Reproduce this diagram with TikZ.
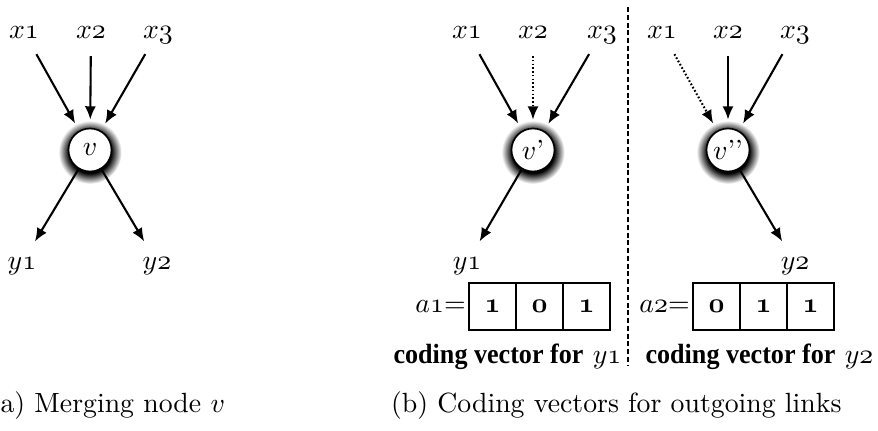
\documentclass[tikz,border=0pt]{standalone}
\usepackage{fontspec}
\newfontfamily\vecfont{Liberation Serif}[BoldFeatures={FakeStretch=0.94}]
\usetikzlibrary{arrows.meta}
\pgfdeclarelayer{background}
\pgfsetlayers{background,main}
% soft dark halo round a merging node
\pgfdeclareradialshading{halo}{\pgfpoint{0bp}{0bp}}{%
  color(0bp)=(black); color(16.5bp)=(black); color(19bp)=(black!72);
  color(25bp)=(white); color(50bp)=(white)}
% old-style digits taken from the math italic font
\newcommand\osd[1]{\mathnormal{#1}}

\begin{document}
\begin{tikzpicture}[x=0.36pt,y=-0.36pt,
  lbl/.style={inner sep=1pt, text height=4.5pt, text depth=0pt},
  merge/.style={circle, draw, line width=0.6pt, fill=white,
    minimum size={43*0.36pt}, inner sep=0pt},
  link/.style={line width=0.75pt, -{Latex[length=4.8pt,width=4pt]}},
  inlink/.style={link, shorten <=5.2pt, shorten >=2.9pt},
  outlink/.style={link, shorten >=5pt},
  dotted link/.style={dash pattern=on 0.6pt off 0.75pt},
  cell/.style={draw, line width=0.7pt, outer sep=0pt, inner sep=0pt,
    minimum width={47*0.36pt}, minimum height={47*0.36pt}, font=\boldmath},
  vectext/.style={anchor=base west, inner sep=0pt},
  divider/.style={line width=0.7pt, dash pattern=on 1.8pt off 1pt},
  caption/.style={inner sep=0pt}]
\useasboundingbox (0,0) rectangle (878,431);

% ---------------- (a) merging node ----------------
\node[lbl] (ax1) at (24,32)  {$x\osd{1}$};
\node[lbl] (ax2) at (91,32)  {$x\osd{2}$};
\node[lbl] (ax3) at (158,32) {$x\osd{3}$};
\node[merge] (v) at (90,150) {$v$};
\node[lbl] (ay1) at (22,263)  {$y\osd{1}$};
\node[lbl] (ay2) at (157,263) {$y\osd{2}$};
\begin{pgfonlayer}{background}
  \shade[shading=halo] ([yshift=-0.8pt]v.center) circle[radius=11.4pt];
\end{pgfonlayer}
\draw[inlink] (ax1) -- (v);
\draw[inlink] (ax2) -- (v);
\draw[inlink] (ax3) -- (v);
\draw[outlink] (v) -- (ay1);
\draw[outlink] (v) -- (ay2);
\node[caption, anchor=base west] (capa) at (0,412) {a) Merging node $v$};

% ---------------- (b) coding vectors ----------------
% left half: link towards y1
\node[lbl] (bx1) at (467,32) {$x\osd{1}$};
\node[lbl] (bx2) at (533,32) {$x\osd{2}$};
\node[lbl] (bx3) at (602,32) {$x\osd{3}$};
\node[merge] (vp) at (533,150) {$v$\textquoteright};
\node[lbl] (by1) at (467,263) {$y\osd{1}$};
\begin{pgfonlayer}{background}
  \shade[shading=halo] ([yshift=-0.8pt]vp.center) circle[radius=11.4pt];
\end{pgfonlayer}
\draw[inlink] (bx1) -- (vp);
\draw[inlink, dotted link] (bx2) -- (vp);
\draw[inlink] (bx3) -- (vp);
\draw[outlink] (vp) -- (by1);

\node[cell] (p1) at (492.5,306.5) {$\osd{1}$};
\node[cell, anchor=west] (p2) at (p1.east) {$\osd{0}$};
\node[cell, anchor=west] (p3) at (p2.east) {$\osd{1}$};
\node[anchor=east, inner sep=1pt] (pa) at (p1.west) {$a\osd{1}{=}$};
\node[vectext] (pt) at (393,363) {{\vecfont\bfseries coding vector for} $y\osd{1}$};

% dividing line
\draw[divider] (628,7) -- (628,366);

% right half: link towards y2
\node[lbl] (cx1) at (662,32) {$x\osd{1}$};
\node[lbl] (cx2) at (728,32) {$x\osd{2}$};
\node[lbl] (cx3) at (795,32) {$x\osd{3}$};
\node[merge] (vpp) at (728,150) {$v$\textquoteright\textquoteright};
\node[lbl] (cy2) at (795,263) {$y\osd{2}$};
\begin{pgfonlayer}{background}
  \shade[shading=halo] ([yshift=-0.8pt]vpp.center) circle[radius=11.4pt];
\end{pgfonlayer}
\draw[inlink, dotted link] (cx1) -- (vpp);
\draw[inlink] (cx2) -- (vpp);
\draw[inlink] (cx3) -- (vpp);
\draw[outlink] (vpp) -- (cy2);

\node[cell] (q1) at (716.5,306.5) {$\osd{0}$};
\node[cell, anchor=west] (q2) at (q1.east) {$\osd{1}$};
\node[cell, anchor=west] (q3) at (q2.east) {$\osd{1}$};
\node[anchor=east, inner sep=1pt] (qa) at (q1.west) {$a\osd{2}{=}$};
\node[vectext] (qt) at (645,363) {{\vecfont\bfseries coding vector for} $y\osd{2}$};

\node[caption, anchor=base east] (capb) at (842,412) {(b) Coding vectors for outgoing links};
\end{tikzpicture}
\end{document}
